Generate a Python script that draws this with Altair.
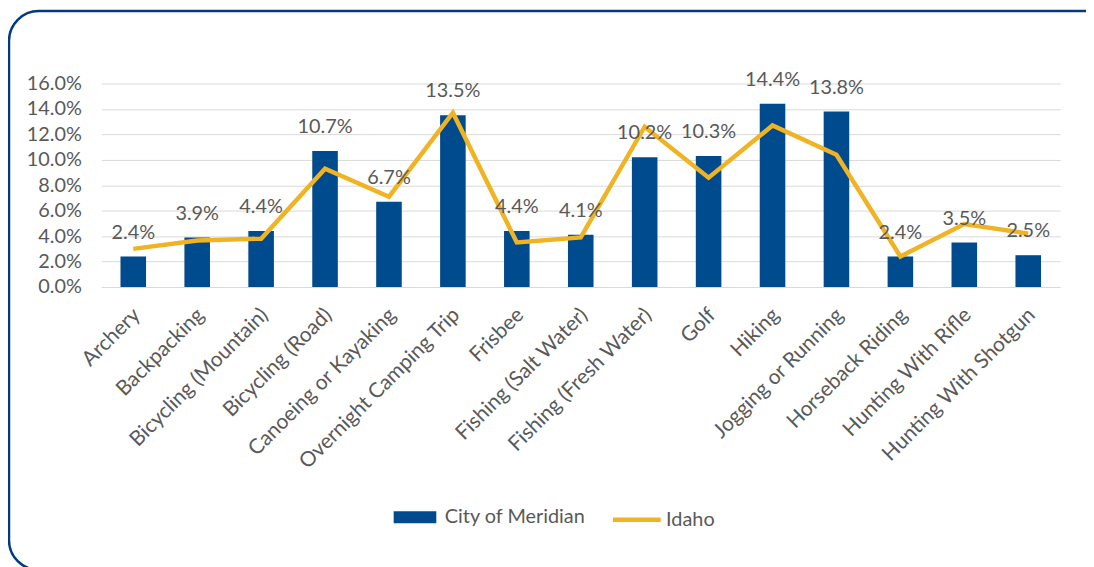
import altair as alt
import pandas as pd

categories = ["Archery", "Backpacking", "Bicycling (Mountain)", "Bicycling (Road)",
              "Canoeing or Kayaking", "Overnight Camping Trip", "Frisbee",
              "Fishing (Salt Water)", "Fishing (Fresh Water)", "Golf", "Hiking",
              "Jogging or Running", "Horseback Riding", "Hunting With Rifle",
              "Hunting With Shotgun"]
meridian = [2.4, 3.9, 4.4, 10.7, 6.7, 13.5, 4.4, 4.1, 10.2, 10.3, 14.4, 13.8, 2.4, 3.5, 2.5]
idaho = [3.0, 3.65, 3.8, 9.3, 7.1, 13.7, 3.5, 3.9, 12.6, 8.6, 12.7, 10.4, 2.4, 4.95, 4.2]
y_ticks = [0, 0.02, 0.04, 0.06, 0.08, 0.10, 0.12, 0.14, 0.16]

df = pd.DataFrame({
    "activity": categories,
    "meridian": [v / 100 for v in meridian],
    "idaho": [v / 100 for v in idaho],
    "s1": ["City of Meridian"] * len(categories),
    "s2": ["Idaho"] * len(categories),
})

FONT = "Lato"
FS = 20
GRAY = "#595959"
BLUE = "#004B8D"
GOLD = "#F0B323"
W, H = 966, 205
PAD = {"left": 94, "top": 74, "right": 26, "bottom": 280}

xscale = alt.Scale(paddingInner=0.6, paddingOuter=0.3)
yscale = alt.Scale(domain=[0, 0.16])
x_axis = alt.Axis(labelAngle=-45, labelPadding=17, labelOffset=-4, grid=False, labelLimit=0,
                  domain=False, ticks=False, labelFontSize=21)
y_axis = alt.Axis(values=y_ticks, format=".1%", grid=True, labelPadding=20,
                  labelOverlap=False, labelFlush=False, domain=False, ticks=False)


def X():
    return alt.X("activity:N", sort=categories, title=None, scale=xscale, axis=x_axis)


base = alt.Chart(df)

bars = base.mark_bar().encode(
    x=X(),
    y=alt.Y("meridian:Q", scale=yscale, title=None, axis=y_axis),
    fill=alt.Fill("s1:N", title=None,
                  scale=alt.Scale(domain=["City of Meridian"], range=[BLUE]),
                  legend=alt.Legend(orient="none", legendX=306, legendY=427,
                                    symbolType="M-3.58,-1H3.58V1H-3.58Z", symbolSize=144,
                                    symbolStrokeWidth=0, labelOffset=20, padding=0)),
)

labels = base.mark_text(dy=-24, baseline="middle", fontSize=FS, font=FONT, color=GRAY).encode(
    x=X(),
    y=alt.Y("meridian:Q", scale=yscale, title=None, axis=y_axis),
    text=alt.Text("meridian:Q", format=".1%"),
)

line = base.mark_line(strokeWidth=4.5, strokeJoin="miter").encode(
    x=X(),
    y=alt.Y("idaho:Q", scale=yscale, title=None, axis=y_axis),
    stroke=alt.Stroke("s2:N", title=None,
                      scale=alt.Scale(domain=["Idaho"], range=[GOLD]),
                      legend=alt.Legend(orient="none", legendX=513, legendY=413,
                                        symbolType="stroke", symbolSize=2304,
                                        symbolStrokeWidth=4.5, labelOffset=3, padding=0)),
)

border = alt.Chart(alt.Data(values=[{"k": 1}])).mark_rect(
    fill="transparent", stroke="#003A80", strokeWidth=2.5, cornerRadius=30
).encode(
    x=alt.value(-93), x2=alt.value(W + 60),
    y=alt.value(-73), y2=alt.value(490),
)

chart = alt.layer(border, bars, line, labels).resolve_scale(
    fill="independent", stroke="independent"
).properties(
    width=W, height=H, padding=PAD, background="white",
    autosize=alt.AutoSizeParams(type="none")
).configure_view(stroke=None).configure_axis(
    domain=False, ticks=False, gridColor="#D9D9D9", gridWidth=1,
    labelFont=FONT, labelFontSize=FS, labelColor=GRAY
).configure_legend(
    labelFont=FONT, labelFontSize=FS, labelColor=GRAY
)

chart.save("out.html", embed_options={"renderer": "svg", "actions": False})
